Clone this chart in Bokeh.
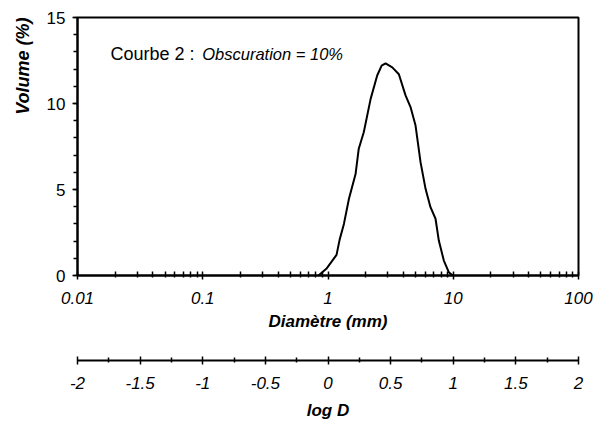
from bokeh.plotting import figure
from bokeh.models import Range1d, FixedTicker, Label, Title
from bokeh.layouts import column
from bokeh.embed import file_html
from bokeh.resources import INLINE

# ---- data ----
diametre = [0.84, 0.97, 1.17, 1.24, 1.34, 1.47, 1.66, 1.76, 1.93, 2.19, 2.47, 2.68, 2.88,
            3.26, 3.68, 4.16, 4.56, 5.00, 5.48, 6.01, 6.58, 7.22, 7.67, 8.41, 9.21, 9.92]
volume = [0.0, 0.39, 1.2, 2.1, 3.0, 4.46, 5.9, 7.37, 8.33, 10.27, 11.63, 12.2, 12.33,
          12.1, 11.7, 10.47, 9.79, 8.72, 6.59, 5.04, 3.97, 3.3, 2.03, 0.87, 0.19, 0.0]

x_ticks = [0.01, 0.1, 1, 10, 100]
x_labels = ["0.01", "0.1", "1", "10", "100"]
x_minor = [m * d for d in [0.01, 0.1, 1, 10] for m in range(2, 10)]
y_ticks = [0, 5, 10, 15]
y_labels = ["0", "5", "10", "15"]
y_minor = list(range(0, 16))
logd_ticks = [-2, -1.5, -1, -0.5, 0, 0.5, 1, 1.5, 2]
logd_labels = ["-2", "-1.5", "-1", "-0.5", "0", "0.5", "1", "1.5", "2"]
logd_minor = [-1.75, -1.25, -0.75, -0.25, 0.25, 0.75, 1.25, 1.75]

FONT = "Liberation Sans"
W = 593
H1 = 337
H2 = 87

p = figure(width=W, height=H1, x_axis_type="log", output_backend="svg",
           toolbar_location=None, x_range=Range1d(0.01, 100), y_range=Range1d(0, 15),
           min_border_left=77, min_border_right=15, min_border_top=17, min_border_bottom=62)
p.grid.visible = False
p.outline_line_color = "black"
p.outline_line_width = 2
p.background_fill_color = "white"
p.border_fill_color = "white"

p.line(diametre, volume, line_color="black", line_width=2)

xa = p.xaxis[0]
xa.ticker = FixedTicker(ticks=x_ticks, minor_ticks=x_minor)
xa.major_label_overrides = dict(zip(x_ticks, x_labels))
xa.axis_line_width = 2
xa.major_tick_in = 4
xa.major_tick_out = 4
xa.minor_tick_in = 4
xa.minor_tick_out = 2
xa.major_tick_line_width = 1.5
xa.minor_tick_line_width = 1.5
xa.major_label_text_font = FONT
xa.major_label_text_font_size = "17px"
xa.major_label_text_font_style = "italic"
xa.major_label_text_color = "black"
xa.major_label_standoff = 12
xa.axis_label = "Diamètre (mm)"
xa.axis_label_text_font = FONT
xa.axis_label_text_font_size = "17px"
xa.axis_label_text_font_style = "bold italic"
xa.axis_label_text_color = "black"
xa.axis_label_standoff = 5

ya = p.yaxis[0]
ya.ticker = FixedTicker(ticks=y_ticks, minor_ticks=y_minor)
ya.major_label_overrides = dict(zip(y_ticks, y_labels))
ya.axis_line_width = 2
ya.major_tick_in = 0
ya.major_tick_out = 5
ya.minor_tick_in = 0
ya.minor_tick_out = 4
ya.major_tick_line_width = 1.5
ya.minor_tick_line_width = 1.5
ya.major_label_text_font = FONT
ya.major_label_text_font_size = "17px"
ya.major_label_text_color = "black"
ya.major_label_standoff = 7

# y-axis title, placed at the top end of the axis as in the reference
p.add_layout(Title(text="Volume (%)", align="right", text_font=FONT,
                   text_font_size="18px", text_font_style="bold italic",
                   text_color="black", standoff=21), "left")

p.add_layout(Label(x=0.01835, y=12.85, text="Courbe 2 :", text_font=FONT,
                   text_font_size="18px", text_color="black", text_baseline="alphabetic"))
p.add_layout(Label(x=0.099, y=12.85, text="Obscuration = 10%", text_font=FONT,
                   text_font_size="16.5px", text_font_style="italic", text_color="black",
                   text_baseline="alphabetic"))

q = figure(width=W, height=H2, output_backend="svg", toolbar_location=None,
           x_range=Range1d(-2, 2), y_range=Range1d(0, 1), y_axis_location=None,
           min_border_left=77, min_border_right=15, min_border_top=21, min_border_bottom=64)
q.grid.visible = False
q.outline_line_color = None
q.background_fill_color = "white"
q.border_fill_color = "white"

la = q.xaxis[0]
la.ticker = FixedTicker(ticks=logd_ticks, minor_ticks=logd_minor)
la.major_label_overrides = dict(zip(logd_ticks, logd_labels))
la.axis_line_width = 2
la.major_tick_in = 4
la.major_tick_out = 4
la.minor_tick_in = 3
la.minor_tick_out = 2
la.major_tick_line_width = 1.5
la.minor_tick_line_width = 1.5
la.major_label_text_font = FONT
la.major_label_text_font_size = "17px"
la.major_label_text_font_style = "italic"
la.major_label_text_color = "black"
la.major_label_standoff = 12
la.axis_label = "log D"
la.axis_label_text_font = FONT
la.axis_label_text_font_size = "17px"
la.axis_label_text_font_style = "bold italic"
la.axis_label_text_color = "black"
la.axis_label_standoff = 9

layout = column(p, q, spacing=0)
open("out.html", "w").write(file_html(layout, INLINE))
